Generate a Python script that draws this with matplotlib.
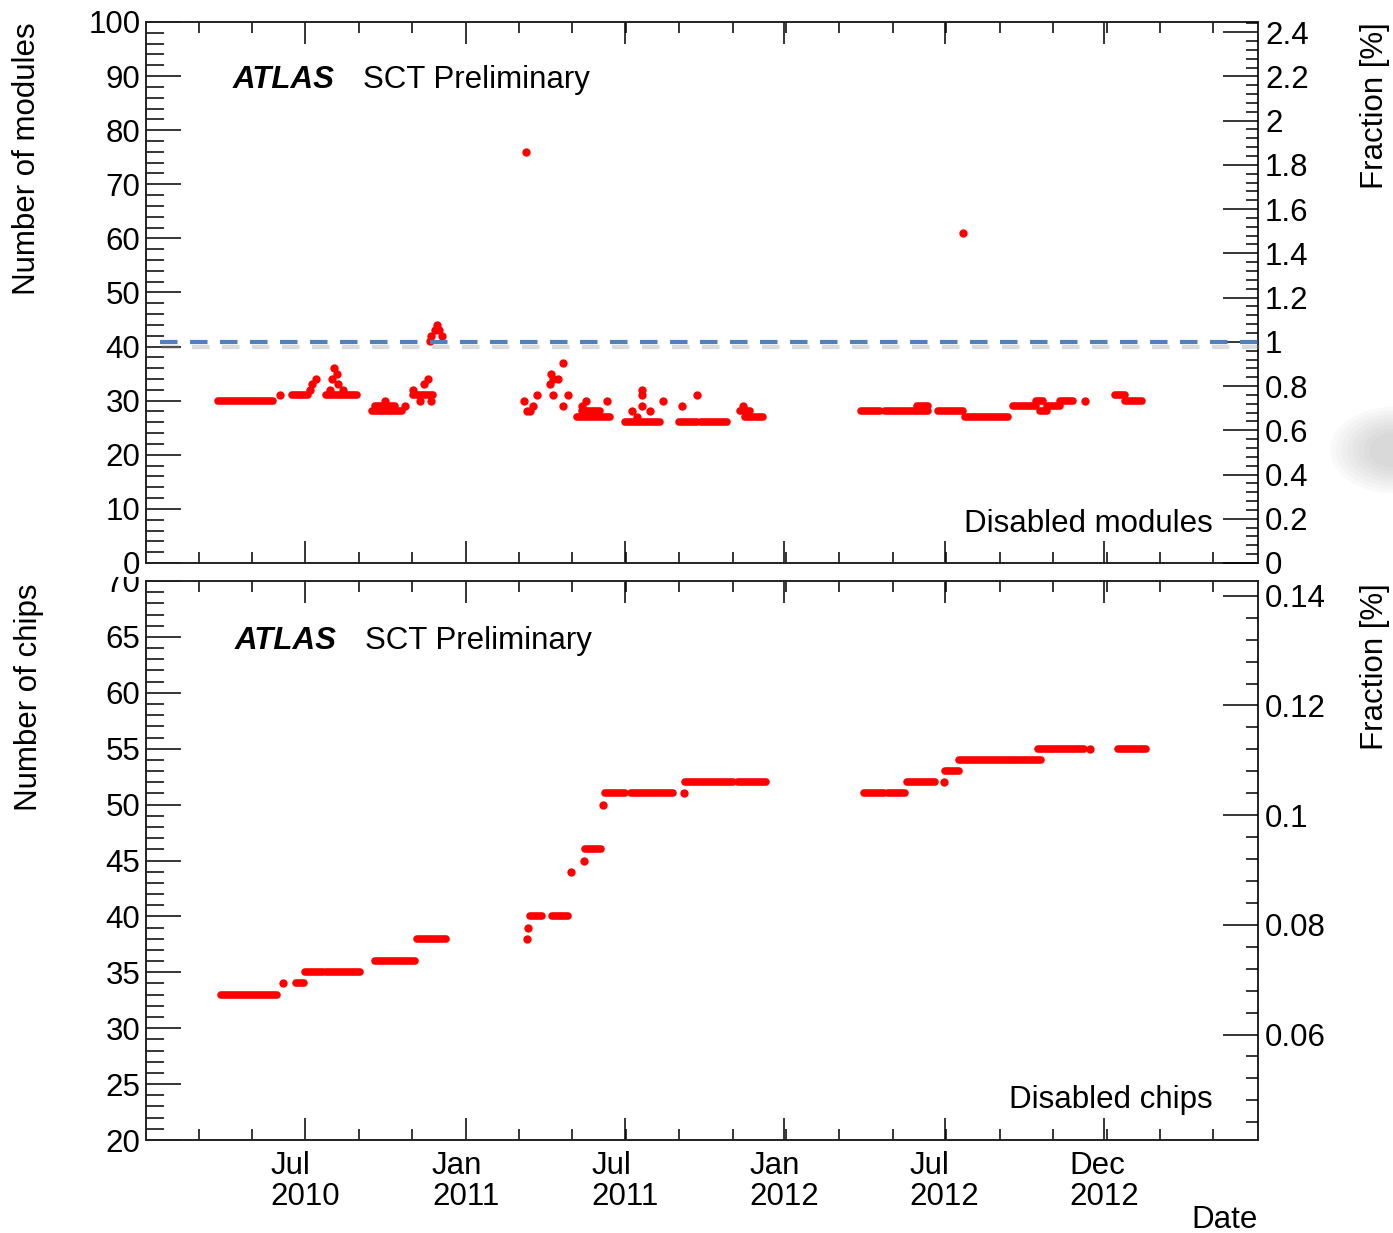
import numpy as np
import matplotlib
matplotlib.use('Agg')
import matplotlib.pyplot as plt
import matplotlib.dates as mdates
import matplotlib.patheffects as pe
from matplotlib.patches import Ellipse
from matplotlib.transforms import Bbox
from matplotlib.ticker import MultipleLocator, FixedLocator

plt.rcParams['font.family'] = ['Liberation Sans', 'DejaVu Sans']

# totals used for the right-hand "Fraction [%]" axes
n_modules_total = 4088
n_chips_total = 4088 * 12

# ---- disabled modules: flat runs (start, end, value) ----
mod_run_start = ['2010-03-24', '2010-06-17', '2010-07-26', '2010-09-16', '2010-09-19',
                 '2010-11-02', '2011-05-08', '2011-05-14', '2011-07-02', '2011-09-02',
                 '2011-09-27', '2011-11-10', '2011-11-16', '2012-03-28', '2012-04-24',
                 '2012-05-31', '2012-06-23', '2012-07-24', '2012-09-17', '2012-10-14',
                 '2012-10-18', '2012-10-26', '2012-11-10', '2013-01-12', '2013-01-23']
mod_run_end = ['2010-05-26', '2010-07-05', '2010-08-30', '2010-10-20', '2010-10-12',
               '2010-11-25', '2011-06-15', '2011-06-03', '2011-08-11', '2011-09-22',
               '2011-10-26', '2011-11-22', '2011-12-07', '2012-04-18', '2012-06-12',
               '2012-06-12', '2012-07-22', '2012-09-11', '2012-10-14', '2012-10-21',
               '2012-10-26', '2012-11-10', '2012-11-25', '2013-01-23', '2013-02-11']
mod_run_val = [30, 31, 31, 28, 29, 31, 27, 28, 26, 26, 26, 28, 27, 28, 28,
               29, 28, 27, 29, 30, 28, 29, 30, 31, 30]

# ---- disabled modules: single days ----
mod_pt_date = ['2010-06-03', '2010-07-07', '2010-07-10', '2010-07-14', '2010-07-30',
               '2010-08-02', '2010-08-04', '2010-08-07', '2010-08-08', '2010-08-14',
               '2010-10-01', '2010-10-24', '2010-11-02', '2010-11-10', '2010-11-15',
               '2010-11-19', '2010-11-23', '2010-11-21', '2010-11-23', '2010-11-27',
               '2010-11-29', '2010-12-02', '2010-12-05', '2011-03-11', '2011-03-09',
               '2011-03-12', '2011-03-15', '2011-03-19', '2011-03-23', '2011-04-07',
               '2011-04-09', '2011-04-11', '2011-04-11', '2011-04-16', '2011-04-22',
               '2011-04-22', '2011-04-28', '2011-05-14', '2011-05-19', '2011-06-11',
               '2011-07-10', '2011-07-16', '2011-07-22', '2011-07-22', '2011-07-22',
               '2011-07-31', '2011-08-14', '2011-09-05', '2011-09-22', '2011-11-14',
               '2012-07-22', '2012-12-08']
mod_pt_val = [31, 32, 33, 34, 32,
              34, 36, 35, 33, 32,
              30, 29, 32, 30, 33,
              34, 30, 41, 42, 43,
              44, 43, 42, 76, 30,
              28, 28, 29, 31, 33,
              35, 34, 31, 34, 37,
              29, 31, 29, 30, 30,
              28, 27, 32, 31, 29,
              28, 30, 29, 31, 29,
              61, 30]

# ---- disabled chips: flat runs ----
chip_run_start = ['2010-03-28', '2010-06-21', '2010-07-02', '2010-07-26', '2010-09-19',
                  '2010-11-06', '2011-03-15', '2011-04-10', '2011-05-17', '2011-06-09',
                  '2011-07-09', '2011-09-09', '2011-11-08', '2012-03-31', '2012-04-27',
                  '2012-05-19', '2012-07-02', '2012-07-17', '2012-09-21', '2012-10-16',
                  '2013-01-15']
chip_run_end = ['2010-05-31', '2010-06-30', '2010-07-22', '2010-09-02', '2010-11-04',
                '2010-12-10', '2011-03-29', '2011-04-28', '2011-06-05', '2011-07-02',
                '2011-08-26', '2011-11-02', '2011-12-10', '2012-04-23', '2012-05-17',
                '2012-06-20', '2012-07-17', '2012-09-18', '2012-10-19', '2012-12-07',
                '2013-02-16']
chip_run_val = [33, 34, 35, 35, 36, 38, 40, 40, 46, 51, 51, 52, 52, 51, 51,
                52, 53, 54, 54, 55, 55]

# ---- disabled chips: single days ----
chip_pt_date = ['2010-06-07', '2011-03-12', '2011-03-13', '2011-05-01', '2011-05-16',
                '2011-06-07', '2011-09-07', '2012-06-30', '2012-12-14']
chip_pt_val = [34, 38, 39, 44, 45, 50, 51, 52, 55]

# ---- time axis ----
tick_dates = ['2010-07-02', '2011-01-01', '2011-07-02', '2011-12-31', '2012-07-01', '2012-12-30']
tick_labels = ['Jul\n2010', 'Jan\n2011', 'Jul\n2011', 'Jan\n2012', 'Jul\n2012', 'Dec\n2012']
x_start, x_end = '2010-01-01', '2013-06-24'

RED = '#ff0000'
FS = 22.5


def d(s):
    return mdates.datestr2num(s) if isinstance(s, str) else [mdates.datestr2num(v) for v in s]


def draw_data(ax, rs, re_, rv, pd_, pv):
    for s, e, v in zip(rs, re_, rv):
        ax.plot([d(s), d(e)], [v, v], color=RED, lw=5.5, solid_capstyle='round', zorder=3)
    ax.plot(d(pd_), pv, 'o', color=RED, ms=6, mec='none', zorder=3)


def style_x(ax, labels):
    ax.set_xlim(d(x_start), d(x_end))
    majors = d(tick_dates)
    step = (majors[1] - majors[0]) / 3
    ax.xaxis.set_major_locator(FixedLocator(majors))
    ax.xaxis.set_minor_locator(FixedLocator(np.arange(majors[0] - 2 * step, d(x_end), step)))
    ax.tick_params(axis='x', which='both', direction='in', top=True, bottom=True, width=1.1)
    ax.tick_params(axis='x', which='major', length=16)
    ax.tick_params(axis='x', which='minor', length=8)
    if labels:
        ax.set_xticklabels(tick_labels, fontsize=FS, linespacing=1.05)
        for t in ax.get_xticklabels():
            t.set_multialignment('left')
        ax.tick_params(axis='x', which='major', pad=8)
    else:
        ax.tick_params(axis='x', labelbottom=False)


def style_y(ax, major, minor):
    ax.yaxis.set_major_locator(MultipleLocator(major))
    ax.yaxis.set_minor_locator(MultipleLocator(minor))
    ax.tick_params(axis='y', which='both', direction='in', left=True, right=False,
                   width=1.1, labelsize=FS, pad=4)
    ax.tick_params(axis='y', which='major', length=25)
    ax.tick_params(axis='y', which='minor', length=13)
    for sp in ax.spines.values():
        sp.set_linewidth(1.4)
        sp.set_color('#222222')


def style_right(r, lo, hi, major, minor):
    r.set_ylim(lo, hi)
    r.yaxis.set_major_locator(MultipleLocator(major))
    r.yaxis.set_minor_locator(MultipleLocator(minor))
    r.yaxis.set_major_formatter(plt.FuncFormatter(lambda v, p: f'{v:g}'))
    r.tick_params(axis='y', which='both', direction='in', width=1.1, labelsize=FS, pad=5)
    r.tick_params(axis='y', which='major', length=25)
    r.tick_params(axis='y', which='minor', length=9)
    for sp in r.spines.values():
        sp.set_visible(False)


fig = plt.figure(figsize=(13.93, 12.33), dpi=100)

# faint grey smudge at the right edge of the original slide
for k in range(8):
    fig.patches.append(Ellipse((1.0, 0.635), 0.09 - k * 0.008, 0.07 - k * 0.006,
                               transform=fig.transFigure, color='#9a9a9a',
                               alpha=0.05, lw=0, zorder=0))

ax1 = fig.add_axes([0.1048, 0.5434, 0.7983, 0.4388])
ax2 = fig.add_axes([0.1048, 0.0754, 0.7983, 0.4534])

# ---------------- top: disabled modules ----------------
draw_data(ax1, mod_run_start, mod_run_end, mod_run_val, mod_pt_date, mod_pt_val)
ax1.set_ylim(0, 100)
style_y(ax1, 10, 2)
style_x(ax1, False)

r1 = ax1.twinx()
style_right(r1, 0, 100 / n_modules_total * 100, 0.2, 0.04)

# 1 % threshold, drawn on the fraction axis so it sits on top of the ticks
r1.plot([0.0126, 1.007], [1.0, 1.0], transform=r1.get_yaxis_transform(),
        color='#4f81bd', lw=3, ls=(0, (4.2, 3.0)), clip_on=False, zorder=6,
        path_effects=[pe.SimpleLineShadow(offset=(1.5, -4), shadow_color='#888888', alpha=0.3),
                      pe.Normal()])

ax1.text(0.078, 0.892, 'ATLAS', transform=ax1.transAxes, fontsize=FS,
         fontweight='bold', fontstyle='italic', va='center', ha='left')
ax1.text(0.195, 0.892, 'SCT Preliminary', transform=ax1.transAxes, fontsize=FS,
         va='center', ha='left')
ax1.text(0.9595, 0.072, 'Disabled modules', transform=ax1.transAxes, fontsize=FS,
         va='center', ha='right')

# ---------------- bottom: disabled chips ----------------
draw_data(ax2, chip_run_start, chip_run_end, chip_run_val, chip_pt_date, chip_pt_val)
ax2.set_ylim(20, 70)
style_y(ax2, 5, 1)
style_x(ax2, True)

r2 = ax2.twinx()
style_right(r2, 20 / n_chips_total * 100, 70 / n_chips_total * 100, 0.02, 0.004)

ax2.text(0.080, 0.892, 'ATLAS', transform=ax2.transAxes, fontsize=FS,
         fontweight='bold', fontstyle='italic', va='center', ha='left')
ax2.text(0.197, 0.892, 'SCT Preliminary', transform=ax2.transAxes, fontsize=FS,
         va='center', ha='left')
ax2.text(0.959, 0.0716, 'Disabled chips', transform=ax2.transAxes, fontsize=FS,
         va='center', ha='right')

# the top "70" label is half hidden under the upper panel, as in the original
fig.canvas.draw()
clip = Bbox.from_extents(0, 0, 1393, 1233 - 577)
for t in ax2.get_yticklabels():
    t.set_clip_box(clip)
    t.set_clip_on(True)

# axis titles (ROOT style, aligned to the axis end)
fig.text(0.0194, 0.982, 'Number of modules', rotation=90, fontsize=FS, va='top', ha='center')
fig.text(0.0205, 0.527, 'Number of chips', rotation=90, fontsize=FS, va='top', ha='center')
fig.text(0.987, 0.982, 'Fraction [%]', rotation=90, fontsize=FS, va='top', ha='center')
fig.text(0.987, 0.527, 'Fraction [%]', rotation=90, fontsize=FS, va='top', ha='center')
fig.text(0.903, 0.0105, 'Date', fontsize=FS, va='center', ha='right')

fig.savefig('out.png', dpi=100)
